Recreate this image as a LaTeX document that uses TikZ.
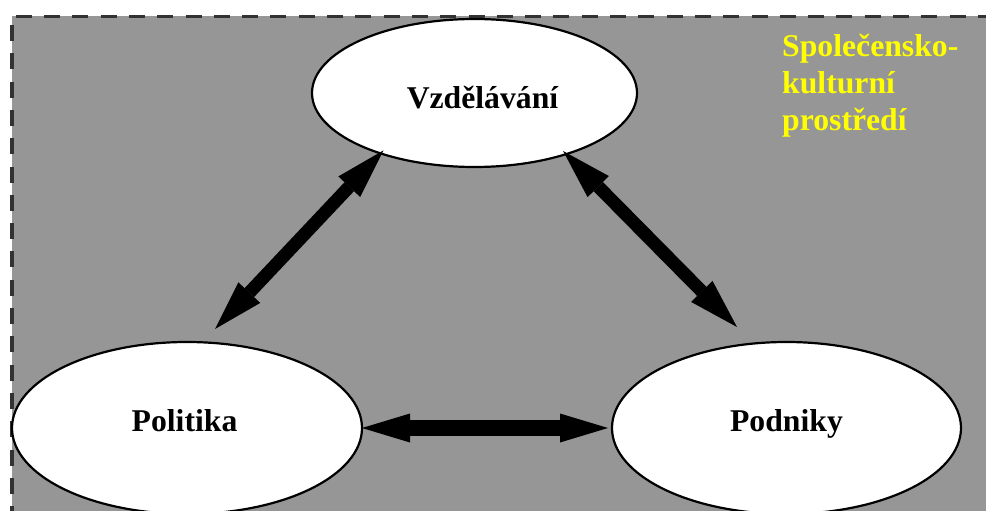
\documentclass[tikz,border=0pt]{standalone}
\usepackage{fontspec}
\setmainfont{Liberation Serif}
\usetikzlibrary{arrows.meta,shapes.geometric}
\definecolor{bggray}{RGB}{150,150,150}
\definecolor{dashgray}{RGB}{50,50,50}
\definecolor{envyellow}{RGB}{255,255,0}
\begin{document}
\begin{tikzpicture}[x=1pt,y=-1pt,
  bubble/.style={ellipse,draw=black,line width=2.2pt,fill=white,outer sep=0pt,inner sep=0pt},
  lbl/.style={font=\fontsize{31.7}{37}\selectfont\bfseries,inner sep=0pt,anchor=base},
  bordline/.style={dashgray,line width=3.5pt,dash pattern=on 16pt off 12.3pt},
  diagarrow/.style={line width=13pt,
    {Triangle[length=50pt,width=30pt,line width=0pt]}-{Triangle[length=50pt,width=30pt,line width=0pt]}},
  flatarrow/.style={line width=16pt,
    {Triangle[length=48pt,width=29pt,line width=0pt]}-{Triangle[length=48pt,width=29pt,line width=0pt]}}]
\useasboundingbox (0,0) rectangle (986,511);
% background
\fill[bggray] (12,16.5) rectangle (1000,530);
\draw[bordline,dash phase=24.6pt] (12,16.5) -- (1000,16.5);
\draw[bordline,dash phase=19.8pt] (12,16.5) -- (12,530);
% ellipses
\node[bubble,minimum width=325pt,minimum height=148pt] (vz) at (474.5,93) {};
\node[bubble,minimum width=350pt,minimum height=172pt] (pol) at (187,428) {};
\node[bubble,minimum width=349pt,minimum height=172pt] (pod) at (786.5,428) {};
% labels
\node[lbl] (vzt) at (482.5,108) {Vzdělávání};
\node[lbl] (polt) at (184.5,431) {Politika};
\node[lbl] (podt) at (786.5,431) {Podniky};
\node[lbl,text=envyellow,align=left,anchor=base west] (env) at (782,131) {Společensko-\\kulturní\\prostředí};
% free arrow ends
\coordinate (a1b) at (215,329);
\coordinate (a2b) at (737,327);
% arrows
\draw[diagarrow] ([shift={(0,-4)}]vz.214) -- (a1b);
\draw[diagarrow] ([shift={(0,-4)}]vz.325) -- (a2b);
\draw[flatarrow] (pol.east) -- ([xshift=-4pt]pod.west);
\end{tikzpicture}
\end{document}
